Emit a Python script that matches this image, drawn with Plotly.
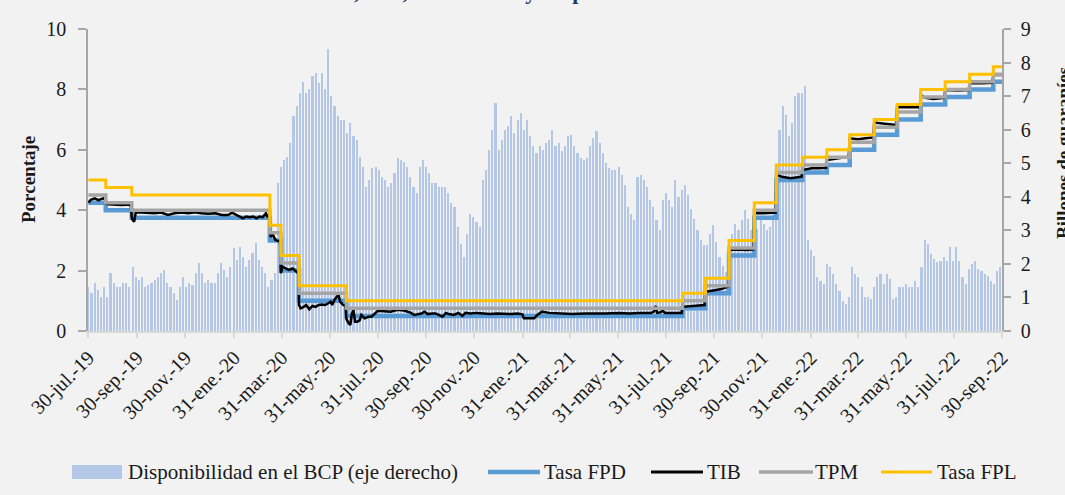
import plotly.graph_objects as go
import pandas as pd

# ---------------- data ----------------
# Disponibilidad en el BCP (billones de guaraníes), one value every 4 days from 30-jul-2019
disp_start = "2019-07-30"
disp_values = [
    1.32, 1.12, 1.42, 1.22, 1.02, 1.32, 1.02, 1.72, 1.42, 1.32,
    1.32, 1.42, 1.42, 1.32, 1.90, 1.62, 1.52, 1.62, 1.32, 1.37,
    1.42, 1.52, 1.62, 1.72, 1.82, 1.42, 1.32, 1.12, 0.92, 1.32,
    1.62, 1.32, 1.42, 1.37, 1.72, 2.02, 1.72, 1.42, 1.52, 1.42,
    1.42, 1.72, 2.02, 1.82, 1.62, 1.92, 2.46, 2.12, 2.51, 2.21,
    1.92, 2.12, 2.31, 2.61, 2.12, 1.92, 1.72, 1.32, 1.52, 1.72,
    4.40, 4.90, 5.10, 5.20, 5.60, 6.40, 6.70, 7.10, 7.43, 7.10,
    7.20, 7.60, 7.70, 7.40, 7.70, 7.20, 8.40, 7.00, 6.70, 6.40,
    6.30, 6.30, 5.90, 6.20, 5.80, 5.70, 5.20, 4.90, 4.30, 4.50,
    4.85, 4.90, 4.80, 4.60, 4.50, 4.30, 4.40, 4.70, 5.15, 5.10,
    5.05, 4.90, 4.60, 4.30, 4.10, 4.90, 5.10, 4.90, 4.70, 4.40,
    4.40, 4.30, 4.30, 4.30, 4.10, 3.80, 3.70, 3.10, 2.60, 2.20,
    2.90, 3.50, 3.40, 3.26, 3.10, 4.50, 4.80, 5.40, 6.00, 6.80,
    5.40, 5.70, 6.00, 6.10, 6.40, 5.90, 6.30, 6.50, 6.00, 6.30,
    5.80, 5.50, 5.30, 5.50, 5.40, 5.60, 5.70, 6.00, 5.50, 5.60,
    5.35, 5.50, 5.80, 5.85, 5.50, 5.30, 5.15, 5.10, 5.15, 5.50,
    5.75, 5.95, 5.60, 5.30, 5.00, 4.85, 4.80, 4.80, 4.90, 4.65,
    4.35, 3.70, 3.50, 3.30, 4.60, 4.65, 4.50, 4.30, 3.90, 3.70,
    3.30, 3.00, 3.90, 4.10, 3.90, 3.70, 4.50, 4.00, 4.20, 4.35,
    4.05, 3.65, 3.35, 3.00, 2.70, 2.55, 2.55, 2.90, 3.15, 2.65,
    2.20, 1.95, 1.75, 2.20, 2.90, 3.20, 3.00, 3.30, 3.60, 3.35,
    3.00, 2.70, 3.05, 3.30, 3.20, 3.00, 3.10, 3.50, 4.70, 6.00,
    6.70, 6.45, 5.80, 6.20, 7.00, 7.10, 7.10, 7.30, 2.70, 2.40,
    2.25, 1.60, 1.50, 1.40, 2.00, 1.90, 1.70, 1.40, 1.20, 0.90,
    0.80, 1.00, 1.90, 1.70, 1.60, 1.30, 1.00, 1.00, 0.95, 1.30,
    1.60, 1.70, 1.40, 1.70, 1.55, 0.95, 1.00, 1.30, 1.30, 1.40,
    1.30, 1.30, 1.50, 1.30, 1.90, 2.70, 2.60, 2.30, 2.15, 2.05,
    2.10, 2.20, 2.10, 2.50, 2.10, 2.50, 2.10, 1.60, 1.40, 1.85,
    2.00, 2.10, 1.85, 1.80, 1.70, 1.65, 1.50, 1.40, 1.80, 1.90,
]
disp_dates = pd.date_range(disp_start, periods=len(disp_values), freq="4D")

# Policy-rate corridor (step series): dates of change and levels (%)
rate_dates = ["2019-07-30", "2019-08-21", "2019-09-23", "2020-03-16", "2020-03-30",
              "2020-04-22", "2020-06-21", "2021-08-21", "2021-09-19", "2021-10-19",
              "2021-11-20", "2021-12-18", "2022-01-20", "2022-02-20", "2022-03-21",
              "2022-04-21", "2022-05-20", "2022-06-19", "2022-07-20", "2022-08-20",
              "2022-09-19", "2022-09-30"]
tpm = [4.5, 4.25, 4.0, 3.25, 2.25, 1.25, 0.75, 1.0, 1.5, 2.75, 4.0, 5.25, 5.5,
       5.75, 6.25, 6.75, 7.25, 7.75, 8.0, 8.25, 8.5, 8.5]
fpl = [5.0, 4.75, 4.5, 3.5, 2.5, 1.5, 1.0, 1.25, 1.75, 3.0, 4.25, 5.5, 5.75,
       6.0, 6.5, 7.0, 7.5, 8.0, 8.25, 8.5, 8.75, 8.75]
fpd = [4.25, 4.0, 3.75, 3.0, 2.0, 1.0, 0.5, 0.75, 1.25, 2.5, 3.75, 5.0, 5.25,
       5.5, 6.0, 6.5, 7.0, 7.5, 7.75, 8.0, 8.25, 8.25]

# TIB (tasa interbancaria, %)
tib_dates = [
    "2019-07-30", "2019-08-02", "2019-08-07", "2019-08-12", "2019-08-14", "2019-08-18",
    "2019-08-20", "2019-08-21", "2019-08-24", "2019-09-02", "2019-09-10", "2019-09-20",
    "2019-09-22", "2019-09-23", "2019-09-24", "2019-09-26", "2019-09-28", "2019-10-05",
    "2019-10-14", "2019-10-22", "2019-10-30", "2019-11-08", "2019-11-16", "2019-11-25",
    "2019-12-04", "2019-12-12", "2019-12-20", "2019-12-29", "2020-01-07", "2020-01-15",
    "2020-01-23", "2020-01-28", "2020-02-03", "2020-02-07", "2020-02-11", "2020-02-15",
    "2020-02-19", "2020-02-24", "2020-02-28", "2020-03-03", "2020-03-07", "2020-03-11",
    "2020-03-13", "2020-03-15", "2020-03-16", "2020-03-17", "2020-03-20", "2020-03-23",
    "2020-03-29", "2020-03-30", "2020-04-01", "2020-04-05", "2020-04-09", "2020-04-14",
    "2020-04-19", "2020-04-21", "2020-04-22", "2020-04-24", "2020-04-28", "2020-05-01",
    "2020-05-05", "2020-05-09", "2020-05-13", "2020-05-17", "2020-05-21", "2020-05-25",
    "2020-05-29", "2020-06-01", "2020-06-03", "2020-06-06", "2020-06-09", "2020-06-11",
    "2020-06-13", "2020-06-17", "2020-06-20", "2020-06-21", "2020-06-24", "2020-06-26",
    "2020-06-28", "2020-06-30", "2020-07-02", "2020-07-05", "2020-07-08", "2020-07-10",
    "2020-07-14", "2020-07-19", "2020-07-23", "2020-07-27", "2020-07-31", "2020-08-16",
    "2020-08-25", "2020-09-02", "2020-09-11", "2020-09-15", "2020-09-20", "2020-09-24",
    "2020-09-28", "2020-10-02", "2020-10-08", "2020-10-12", "2020-10-16", "2020-10-21",
    "2020-10-25", "2020-10-29", "2020-11-04", "2020-11-10", "2020-11-15", "2020-11-19",
    "2020-11-25", "2020-12-03", "2020-12-12", "2020-12-20", "2020-12-29", "2021-01-07",
    "2021-01-16", "2021-01-24", "2021-01-30", "2021-02-01", "2021-02-08", "2021-02-14",
    "2021-02-18", "2021-02-24", "2021-03-05", "2021-03-20", "2021-04-03", "2021-04-20",
    "2021-05-05", "2021-05-15", "2021-06-01", "2021-06-15", "2021-06-27", "2021-07-12",
    "2021-07-16", "2021-07-18", "2021-07-20", "2021-07-24", "2021-07-27", "2021-07-30",
    "2021-08-10", "2021-08-20", "2021-08-21", "2021-09-01", "2021-09-10", "2021-09-18",
    "2021-09-19", "2021-09-28", "2021-10-08", "2021-10-18", "2021-10-19", "2021-10-30",
    "2021-11-10", "2021-11-19", "2021-11-20", "2021-12-01", "2021-12-10", "2021-12-17",
    "2021-12-18", "2021-12-25", "2022-01-05", "2022-01-12", "2022-01-19", "2022-01-20",
    "2022-02-01", "2022-02-10", "2022-02-19", "2022-02-20", "2022-03-05", "2022-03-20",
    "2022-03-21", "2022-04-01", "2022-04-10", "2022-04-20", "2022-04-21", "2022-05-05",
    "2022-05-19", "2022-05-20", "2022-06-05", "2022-06-18", "2022-06-19", "2022-06-25",
    "2022-07-05", "2022-07-19", "2022-07-20", "2022-08-05", "2022-08-19", "2022-08-20",
    "2022-09-05", "2022-09-18", "2022-09-19", "2022-09-30",
]
tib_values = [
    4.25, 4.34, 4.39, 4.33, 4.36, 4.39,
    4.36, 4.22, 4.20, 4.19, 4.17, 4.19,
    4.12, 3.75, 3.68, 3.62, 3.92, 3.92,
    3.90, 3.90, 3.92, 3.84, 3.90, 3.92,
    3.90, 3.93, 3.90, 3.88, 3.90, 3.84,
    3.84, 3.92, 3.84, 3.79, 3.73, 3.79,
    3.77, 3.79, 3.73, 3.79, 3.77, 3.90,
    3.79, 3.79, 3.34, 3.12, 3.18, 3.01,
    2.96, 1.91, 2.13, 2.07, 2.02, 2.07,
    1.96, 1.91, 0.86, 0.75, 0.80, 0.86,
    0.72, 0.83, 0.80, 0.86, 0.88, 0.86,
    0.92, 0.97, 0.86, 1.03, 1.14, 1.19,
    0.97, 0.86, 0.83, 0.40, 0.25, 0.20,
    0.58, 0.70, 0.31, 0.31, 0.36, 0.53,
    0.42, 0.47, 0.48, 0.58, 0.67, 0.64,
    0.70, 0.68, 0.60, 0.53, 0.56, 0.58,
    0.64, 0.56, 0.58, 0.58, 0.53, 0.47,
    0.60, 0.56, 0.53, 0.60, 0.50, 0.60,
    0.58, 0.60, 0.58, 0.56, 0.58, 0.56,
    0.56, 0.58, 0.55, 0.42, 0.42, 0.42,
    0.53, 0.64, 0.60, 0.58, 0.56, 0.58,
    0.57, 0.58, 0.60, 0.58, 0.60, 0.60,
    0.64, 0.83, 0.60, 0.62, 0.67, 0.60,
    0.60, 0.60, 0.80, 0.82, 0.83, 0.86,
    1.30, 1.34, 1.38, 1.47, 2.68, 2.70,
    2.68, 2.70, 3.90, 3.90, 3.92, 3.92,
    5.17, 5.11, 5.06, 5.08, 5.11, 5.33,
    5.39, 5.39, 5.40, 5.66, 5.70, 5.77,
    6.38, 6.35, 6.38, 6.41, 6.90, 6.85,
    6.82, 7.41, 7.40, 7.41, 7.81, 7.72,
    7.68, 7.72, 7.98, 7.96, 7.98, 8.20,
    8.20, 8.22, 8.48, 8.48,
]

tick_dates = ["2019-07-30", "2019-09-30", "2019-11-30", "2020-01-31", "2020-03-31",
              "2020-05-31", "2020-07-31", "2020-09-30", "2020-11-30", "2021-01-31",
              "2021-03-31", "2021-05-31", "2021-07-31", "2021-09-30", "2021-11-30",
              "2022-01-31", "2022-03-31", "2022-05-31", "2022-07-31", "2022-09-30"]
tick_labels = ["30-jul.-19", "30-sep.-19", "30-nov.-19", "31-ene.-20", "31-mar.-20",
               "31-may.-20", "31-jul.-20", "30-sep.-20", "30-nov.-20", "31-ene.-21",
               "31-mar.-21", "31-may.-21", "31-jul.-21", "30-sep.-21", "30-nov.-21",
               "31-ene.-22", "31-mar.-22", "31-may.-22", "31-jul.-22", "30-sep.-22"]

series_names = ["Disponibilidad en el BCP (eje derecho)", "Tasa FPD", "TIB", "TPM", "Tasa FPL"]

# ---------------- styling ----------------
W, H = 1065, 495
L, R, T, B = 88, 63, 29, 164
PW, PH = W - L - R, H - T - B
FONT = "Liberation Serif"
TXT = "#1a1a1a"
C_BAR = "#b4c7e7"
C_FPD = "#5b9bd5"
C_TIB = "#000000"
C_TPM = "#a5a5a5"
C_FPL = "#ffc000"


def px_x(p):
    return (p - L) / PW


def px_y(p):
    return (H - B - p) / PH


fig = go.Figure()

fig.add_trace(go.Bar(x=disp_dates, y=disp_values, name=series_names[0],
                     marker=dict(color=C_BAR, line=dict(width=0)),
                     width=2.7 * 86400000, yaxis="y", showlegend=False))
fig.add_trace(go.Scatter(x=rate_dates, y=fpd, name=series_names[1], mode="lines",
                         line=dict(color=C_FPD, width=4.5, shape="hv"),
                         yaxis="y2", showlegend=False))
fig.add_trace(go.Scatter(x=tib_dates, y=tib_values, name=series_names[2], mode="lines",
                         line=dict(color=C_TIB, width=2.5),
                         yaxis="y2", showlegend=False))
fig.add_trace(go.Scatter(x=rate_dates, y=tpm, name=series_names[3], mode="lines",
                         line=dict(color=C_TPM, width=3.5, shape="hv"),
                         yaxis="y2", showlegend=False))
fig.add_trace(go.Scatter(x=rate_dates, y=fpl, name=series_names[4], mode="lines",
                         line=dict(color=C_FPL, width=3, shape="hv"),
                         yaxis="y2", showlegend=False))

axis_common = dict(showgrid=False, zeroline=False, showline=True, ticks="outside",
                   tickfont=dict(family=FONT, size=20, color=TXT))

fig.update_layout(
    width=W, height=H,
    margin=dict(l=L, r=R, t=T, b=B, autoexpand=False),
    paper_bgcolor="#f2f2f2", plot_bgcolor="#f2f2f2",
    font=dict(family=FONT, color=TXT),
    bargap=0,
    xaxis=dict(type="date", range=["2019-07-29 12:00", "2022-09-30"],
               tickmode="array", tickvals=tick_dates, ticktext=tick_labels,
               tickangle=-45, linecolor="#d9d9d9", linewidth=2,
               tickcolor="#d9d9d9", tickwidth=2, ticklen=5, **axis_common),
    yaxis=dict(side="right", range=[0, 9], dtick=1, tick0=0,
               linecolor="#a6a6a6", linewidth=1.5, tickcolor="#a6a6a6",
               tickwidth=1.5, ticklen=7, ticklabelstandoff=6, **axis_common),
    yaxis2=dict(side="left", overlaying="y", range=[0, 10], dtick=2, tick0=0,
                linecolor="#a6a6a6", linewidth=1.5, tickcolor="#a6a6a6",
                tickwidth=1.5, ticklen=8, ticklabelstandoff=8, **axis_common),
)

annotations = [
    dict(text="<b>TPM, TIB, Facilidades y Disponibilidad en el BCP</b>",
         x=px_x(541), y=px_y(-8), xref="paper", yref="paper",
         xanchor="center", yanchor="middle", showarrow=False,
         font=dict(family=FONT, size=22, color="#1f3864")),
    dict(text="<b>Porcentaje</b>", x=px_x(28), y=px_y(180), xref="paper", yref="paper",
         xanchor="center", yanchor="middle", textangle=-90, showarrow=False,
         font=dict(family=FONT, size=19, color=TXT)),
    dict(text="<b>Billones de guaraníes</b>", x=px_x(1063), y=px_y(153),
         xref="paper", yref="paper", xanchor="center", yanchor="middle",
         textangle=-90, showarrow=False, font=dict(family=FONT, size=19, color=TXT)),
]

# manual legend
leg_y = 472
shapes = [dict(type="rect", xref="paper", yref="paper",
               x0=px_x(72), x1=px_x(122), y0=px_y(479), y1=px_y(465),
               fillcolor=C_BAR, line=dict(width=0))]
leg_lines = [(488, 540, C_FPD, 4.5), (651, 703, C_TIB, 3), (759, 813, C_TPM, 3.5),
             (881, 932, C_FPL, 3)]
for x0, x1, c, w in leg_lines:
    shapes.append(dict(type="line", xref="paper", yref="paper",
                       x0=px_x(x0), x1=px_x(x1), y0=px_y(leg_y), y1=px_y(leg_y),
                       line=dict(color=c, width=w)))
leg_text_x = [126, 542, 705, 813, 935]
for name, tx in zip(series_names, leg_text_x):
    annotations.append(dict(text=name, x=px_x(tx), y=px_y(leg_y), xref="paper",
                            yref="paper", xanchor="left", yanchor="middle",
                            showarrow=False, font=dict(family=FONT, size=21, color=TXT)))

fig.update_layout(annotations=annotations, shapes=shapes)

fig.write_html("out.html",
               config={"displayModeBar": False},
               post_script="document.body.style.margin='0px';"
                           "document.body.style.padding='0px';"
                           "document.body.style.overflow='hidden';")
